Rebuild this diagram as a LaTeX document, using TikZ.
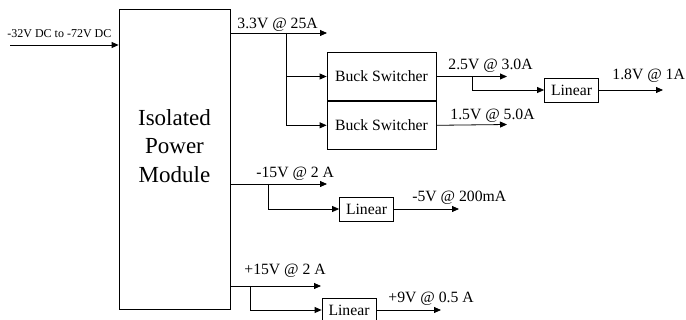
\documentclass[tikz,border=0pt]{standalone}
\usepackage{fontspec}
\setmainfont{Liberation Serif}
\usetikzlibrary{arrows.meta,positioning}

\begin{document}
\begin{tikzpicture}[
  x=1pt, y=-1pt,
  line width=0.8pt,
  module/.style={draw, minimum width=111pt, minimum height=300pt, inner sep=0pt},
  bigtext/.style={align=center, font=\fontsize{23}{28.5}\selectfont, inner sep=0pt},
  buck/.style={draw, minimum width=109pt, minimum height=48pt, inner sep=0pt, font=\fontsize{15.7}{18}\selectfont},
  linear/.style={draw, minimum width=54pt, minimum height=24pt, inner sep=0pt, font=\fontsize{15.7}{18}\selectfont},
  volt/.style={anchor=base west, inner sep=0pt, font=\fontsize{15.7}{18}\selectfont},
  >={Triangle[length=7pt,width=6pt]}
]
\useasboundingbox (0,0) rectangle (686,320);
% boxes
\node[module] (pwr) at (174.5,159) {};
\node[bigtext] (pwrtext) at ([yshift=13pt]pwr.center) {Isolated\\Power\\Module};
\node[buck] (bk1) at (381.5,76.5) {Buck Switcher};
\node[buck, below=0pt of bk1] (bk2) {Buck Switcher};
\node[linear] (lin1) at (571.5,90) {Linear};
\node[linear] (lin2) at (366.5,209) {Linear};
\node[linear] (lin3) at (349,310) {Linear};
% free ends and branch points
\coordinate (in) at (10,45);
\coordinate (o33) at (327,33);
\coordinate (j33) at (286,33);
\coordinate (o25) at (507,76.5);
\coordinate (j25) at (472,76.5);
\coordinate (o18) at (663,90);
\coordinate (o15) at (507,124.5);
\coordinate (om15) at (327,184);
\coordinate (jm15) at (268,184);
\coordinate (om5) at (459,209);
\coordinate (op15) at (321,286);
\coordinate (jp15) at (250,286);
\coordinate (op9) at (441,310);
% connectors
\draw[->] (in) -- (in -| pwr.west);
\draw[->] (pwr.east |- o33) -- (o33);
\draw[->] (j33) |- (bk1.west);
\draw[->] (j33) |- (bk2.west);
\draw[->] (bk1.east) -- (o25);
\draw[->] (j25) |- (lin1.west);
\draw[->] (lin1.east) -- (o18);
\draw[->] (bk2.east) -- (o15);
\draw[->] (pwr.east |- om15) -- (om15);
\draw[->] (jm15) |- (lin2.west);
\draw[->] (lin2.east) -- (om5);
\draw[->] (pwr.east |- op15) -- (op15);
\draw[->] (jp15) |- (lin3.west);
\draw[->] (lin3.east) -- (op9);
% labels
\node[volt, font=\fontsize{12}{14}\selectfont] (tin) at (7,38) {-32V DC to -72V DC};
\node[volt] (t33) at (237,29) {3.3V @ 25A};
\node[volt] (t25) at (448,70) {2.5V @ 3.0A};
\node[volt] (t18) at (612,80) {1.8V @ 1A};
\node[volt] (t15) at (450,120) {1.5V @ 5.0A};
\node[volt] (tm15) at (256,178) {-15V @ 2 A};
\node[volt] (tm5) at (412,202) {-5V @ 200mA};
\node[volt] (tp15) at (244,275) {+15V @ 2 A};
\node[volt] (tp9) at (388,303) {+9V @ 0.5 A};
\end{tikzpicture}
\end{document}
